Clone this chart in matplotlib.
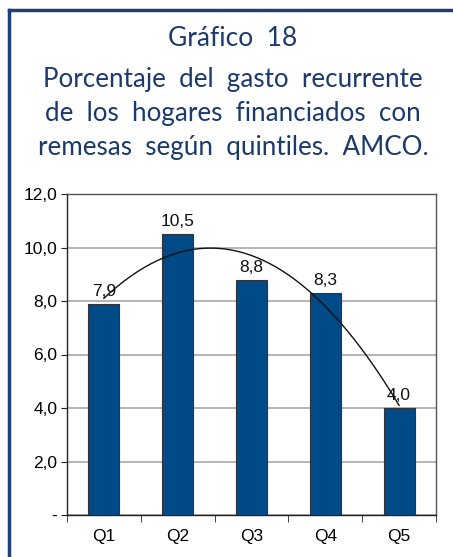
import numpy as np
import matplotlib
matplotlib.use("Agg")
import matplotlib.pyplot as plt
from matplotlib.lines import Line2D

categories = ["Q1", "Q2", "Q3", "Q4", "Q5"]
values = [7.9, 10.5, 8.8, 8.3, 4.0]
yticks = [0, 2, 4, 6, 8, 10, 12]
ytick_labels = ["-", "2,0", "4,0", "6,0", "8,0", "10,0", "12,0"]
title_line1 = "Gráfico  18"
title_lines = ["Porcentaje  del  gasto  recurrente",
               "de  los  hogares  financiados  con",
               "remesas  según  quintiles.  AMCO."]

W, H = 453, 557
fig = plt.figure(figsize=(W/100, H/100), dpi=100)
fig.patch.set_facecolor("white")

border_col = "#1f3f78"
title_col = "#1b3a6b"
# frame lines
fig.add_artist(Line2D([9/W, 9/W], [0, 1 - 10/H], transform=fig.transFigure, color=border_col, lw=2.5))
fig.add_artist(Line2D([9/W, 1], [1 - 10/H, 1 - 10/H], transform=fig.transFigure, color=border_col, lw=2.5))

fig.text(233/W, 1 - 39/H, title_line1, ha="center", va="center", fontsize=19,
         color=title_col, family="Lato")
for i, t in enumerate(title_lines):
    fig.text(233/W, 1 - (80 + 34*i)/H, t, ha="center", va="center", fontsize=18.7,
             color=title_col, family="Lato")

left, right, top, bottom = 67, 436, 194, 515
ax = fig.add_axes([left/W, 1 - bottom/H, (right-left)/W, (bottom-top)/H])
x = np.arange(len(categories))
ax.bar(x, values, width=0.42, color="#004a87", edgecolor="#333333", linewidth=0.8, zorder=3)

# polynomial (order 2) trend line
coef = np.polyfit(x, values, 2)
xs = np.linspace(0, 4, 200)
ax.plot(xs, np.polyval(coef, xs), color="#111111", lw=1.0, zorder=4)

for xi, v in zip(x, values):
    ax.text(xi, v + 0.18, f"{v:.1f}".replace(".", ","), ha="center", va="bottom",
            fontsize=12.5, family="Liberation Sans", color="#111111", zorder=5)

ax.set_xlim(-0.5, 4.5)
ax.set_ylim(0, 12)
ax.set_yticks(yticks)
ax.set_yticklabels(ytick_labels, fontsize=12.5, family="Liberation Sans")
ax.set_xticks(x)
ax.set_xticklabels(categories, fontsize=12.5, family="Liberation Sans")
ax.set_xticks(np.arange(-0.5, 5, 1), minor=True)
ax.tick_params(axis="x", which="major", length=0, pad=10)
ax.tick_params(axis="x", which="minor", length=5, direction="out", color="#222222")
ax.tick_params(axis="y", length=4, direction="out", color="#222222", pad=3)
ax.yaxis.grid(True, color="#a8a8a8", lw=1.2, zorder=0)
ax.set_axisbelow(True)
for s in ["left", "bottom"]:
    ax.spines[s].set_color("#222222")
    ax.spines[s].set_linewidth(1.0)
for s in ["top", "right"]:
    ax.spines[s].set_color("#555555")
    ax.spines[s].set_linewidth(1.0)

fig.savefig("out.png", dpi=100)
